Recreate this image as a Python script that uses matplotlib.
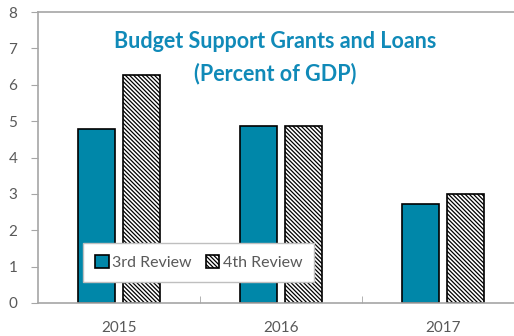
import matplotlib
matplotlib.use("Agg")
import matplotlib.pyplot as plt
import numpy as np

categories = ["2015", "2016", "2017"]
third_review = [4.78, 4.86, 2.72]
fourth_review = [6.26, 4.86, 3.00]
yticks = [0, 1, 2, 3, 4, 5, 6, 7, 8]

plt.rcParams['font.family'] = ['Lato', 'DejaVu Sans']
plt.rcParams['hatch.linewidth'] = 0.9

fig = plt.figure(figsize=(5.14, 3.36), dpi=100)
ax = fig.add_axes([38/514, 33/336, 486/514, 291/336])

x = np.arange(len(categories))
w = 0.228
off = 0.139
teal = "#0087A9"
ax.bar(x - off, third_review, w, color=teal, edgecolor="black", linewidth=1.2, label="3rd Review", zorder=2)
ax.bar(x + off, fourth_review, w, color="white", edgecolor="black", hatch="\\" * 8, linewidth=1.2, label="4th Review", zorder=2)

ax.set_xlim(-0.5, 2.5)
ax.set_ylim(0, 8)
ax.set_yticks(yticks)
ax.set_xticks(x)
ax.set_xticklabels(categories)
ax.set_xticks([0.5, 1.5], minor=True)
ax.tick_params(axis='x', which='major', length=0, pad=13, labelsize=11, labelcolor="#595959")
ax.tick_params(axis='x', which='minor', length=5, direction='in', color="#A6A6A6")
ax.tick_params(axis='y', length=5, color="#A6A6A6", labelsize=11, labelcolor="#595959", pad=10)

for s in ax.spines.values():
    s.set_color("#A6A6A6")
    s.set_linewidth(1.2)

fig.text(0.535, 1 - 42/336, "Budget Support Grants and Loans", ha="center", va="center",
         color="#108AB8", fontsize=15.5, fontweight="bold")
fig.text(0.535, 1 - 74/336, "(Percent of GDP)", ha="center", va="center",
         color="#108AB8", fontsize=15.5, fontweight="bold")

leg = ax.legend(loc="lower left", bbox_to_anchor=(45/486, 21/291), ncol=2, frameon=True, fancybox=False,
                fontsize=11.5, handlelength=0.85, handleheight=0.85, handletextpad=0.2, columnspacing=0.9,
                borderpad=0.75, borderaxespad=0, framealpha=1, labelcolor="#595959")
leg.get_frame().set_edgecolor("#BFBFBF")
leg.get_frame().set_linewidth(1.0)
leg.set_zorder(5)

fig.savefig("out.png", dpi=100)
